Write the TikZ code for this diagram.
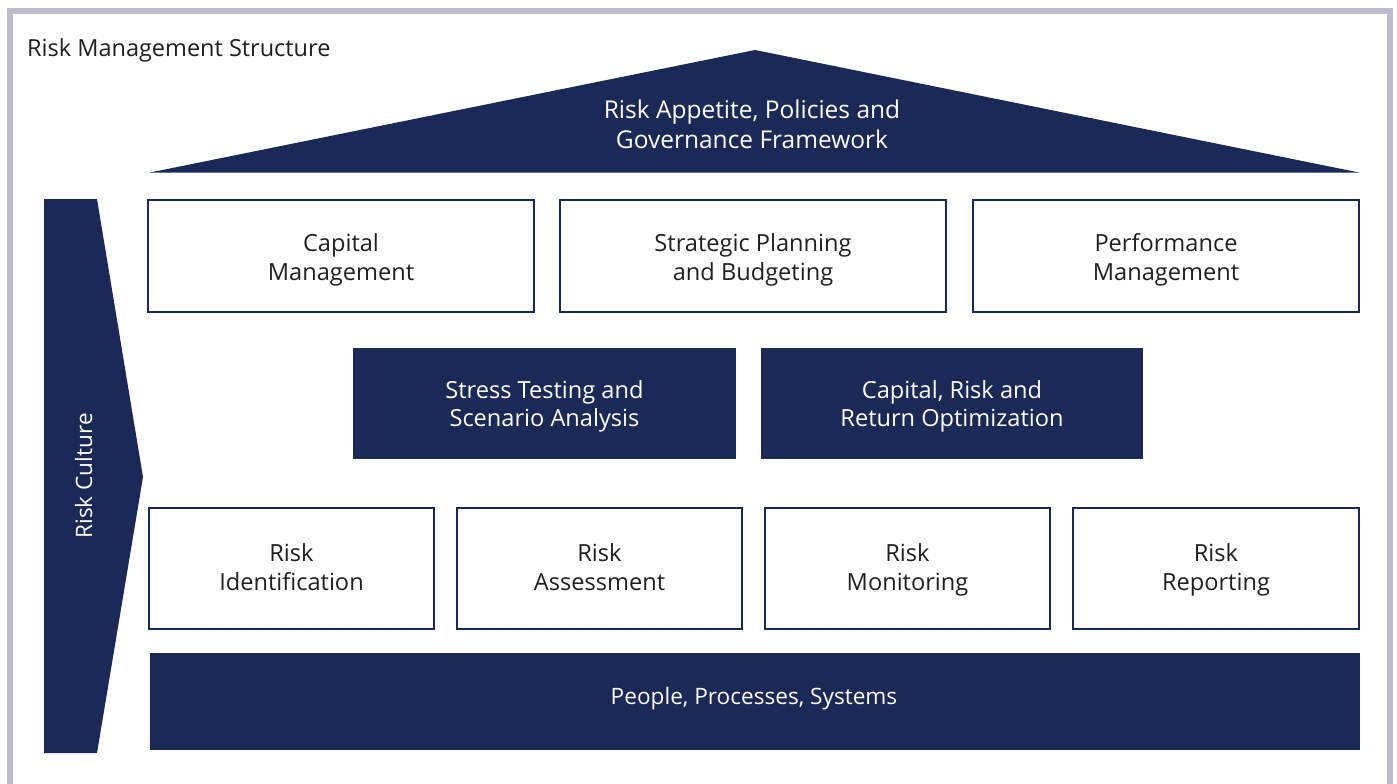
\documentclass[tikz,border=0pt]{standalone}
\usepackage{fontspec}
\setmainfont{Open Sans}
\definecolor{navy}{RGB}{27,41,86}
\definecolor{frame}{RGB}{189,187,205}
\definecolor{ink}{RGB}{35,31,32}
\newcommand\ls{\strut}
\tikzset{
  lbl/.style={font=\fontsize{23.6}{28.3}\selectfont, align=center, inner sep=0pt},
  wbox/.style={draw=navy, line width=1.2pt, fill=white, inner sep=0pt},
  dbox/.style={fill=navy, inner sep=0pt},
  wtxt/.style={lbl, text=ink},
  dtxt/.style={lbl, text=white},
}
\begin{document}
\begin{tikzpicture}[x=1pt,y=-1pt]
\useasboundingbox (0,0) rectangle (1397,784);
\fill[white] (0,0) rectangle (1397,784);
% frame
\draw[frame, line width=6pt] (10,790) -- (10,10.8) -- (1390.2,10.8) -- (1390.2,790);
% title
\node[anchor=base west, inner sep=0pt, text=ink, font=\fontsize{23.5}{28}\selectfont] (title) at (27,57) {Risk Management Structure};
% roof
\fill[navy] (150,172.5) -- (755,50) -- (1359,172.5) -- cycle;
\node[dtxt, font=\fontsize{24.5}{30}\selectfont] (roof) at (752,127.3) {\ls Risk Appetite, Policies and\\\ls Governance Framework};
% risk culture arrow
\fill[navy] (44,199) -- (97,199) -- (143,477) -- (97,753) -- (44,753) -- cycle;
\node[dtxt, font=\fontsize{22.6}{28}\selectfont, rotate=90, anchor=base] (culture) at (92,476) {Risk Culture};
% row 1
\node[wbox, minimum width=386pt, minimum height=112pt] (cap) at (341,256) {};
\node[wbox, minimum width=386pt, minimum height=112pt] (spb) at (753,256) {};
\node[wbox, minimum width=386pt, minimum height=112pt] (perf) at (1166,256) {};
\node[wtxt] (capT) at (341,260.4) {\ls Capital\\\ls Management};
\node[wtxt] (spbT) at (753,260.4) {\ls Strategic Planning\\\ls and Budgeting};
\node[wtxt] (perfT) at (1166,260.4) {\ls Performance\\\ls Management};
% row 2
\node[dbox, minimum width=383pt, minimum height=111pt] (stress) at (544.5,403.5) {};
\node[dbox, minimum width=382pt, minimum height=111pt] (crr) at (952,403.5) {};
\node[dtxt] (stressT) at (544.5,406.8) {\ls Stress Testing and\\\ls Scenario Analysis};
\node[dtxt] (crrT) at (952,406.8) {\ls Capital, Risk and\\\ls Return Optimization};
% row 3
\node[wbox, minimum width=285pt, minimum height=121pt] (rid) at (291.5,568.5) {};
\node[wbox, minimum width=285pt, minimum height=121pt] (ras) at (599.5,568.5) {};
\node[wbox, minimum width=285pt, minimum height=121pt] (rmo) at (907.5,568.5) {};
\node[wbox, minimum width=286pt, minimum height=121pt] (rre) at (1216,568.5) {};
\node[wtxt] (ridT) at (291.5,570.2) {\ls Risk\\\ls Identification};
\node[wtxt] (rasT) at (599.5,570.2) {\ls Risk\\\ls Assessment};
\node[wtxt] (rmoT) at (907.5,570.2) {\ls Risk\\\ls Monitoring};
\node[wtxt] (rreT) at (1216,570.2) {\ls Risk\\\ls Reporting};
% base
\node[dbox, minimum width=1210pt, minimum height=97pt] (base) at (755,701.5) {};
\node[dtxt, font=\fontsize{22.6}{28}\selectfont, anchor=base] (baseT) at (754,704.3) {People, Processes, Systems};
\end{tikzpicture}
\end{document}
